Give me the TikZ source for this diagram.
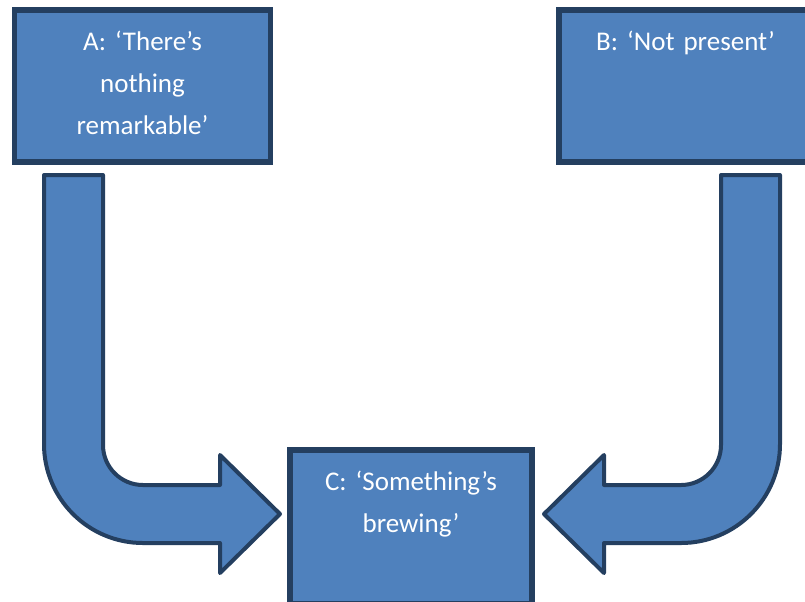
\documentclass[tikz,border=0pt]{standalone}
\usepackage{fontspec}
\setmainfont{Carlito}
\frenchspacing
\definecolor{boxfill}{RGB}{79,129,189}
\definecolor{boxline}{RGB}{36,63,96}
\tikzset{every picture/.style={line width=0.75pt},
	box/.style={draw=boxline, fill=boxfill, line width=4.1pt, text=white, font=\fontsize{20.25}{31.5}\selectfont, align=center, inner sep=0pt, text height=30pt},
	bentarrow/.style={draw=boxline, fill=boxfill, line width=3pt, line join=round}}
\begin{document}
\begin{tikzpicture}[x=0.75pt,y=0.75pt,yscale=-1,xscale=1]
		\useasboundingbox (0,0) rectangle (805,601);
		\clip (0,0) rectangle (805,601);
		
		%Shape: Rectangle [A]
		\node [box, text width=192pt, text depth=84pt] (A) at (142.5,86) {A: ‘There’s\\nothing\\remarkable’};
		%Shape: Rectangle [B]
		\node [box, text width=189.75pt, text depth=84pt] (B) at (685.5,86) {B: ‘Not present’};
		%Shape: Rectangle [C]
		\node [box, text width=181.5pt, text depth=85.5pt] (C) at (411,527) {C: ‘Something’s\\brewing’};
		
		%Shape: Bent Arrow [A to C]
		\draw [bentarrow] (44,175) -- (103,175) -- (103,445) arc [start angle=180, end angle=90, radius=40] -- (220,485) -- (220,455) -- (280,514) -- (220,573) -- (220,543) -- (143,543) arc [start angle=90, end angle=180, radius=99] -- cycle ;
		%Shape: Bent Arrow [B to C]
		\draw [bentarrow] (780,175) -- (721,175) -- (721,445) arc [start angle=0, end angle=90, radius=40] -- (604,485) -- (604,455) -- (544,514) -- (604,573) -- (604,543) -- (681,543) arc [start angle=90, end angle=0, radius=99] -- cycle ;
		
	\end{tikzpicture}
\end{document}
